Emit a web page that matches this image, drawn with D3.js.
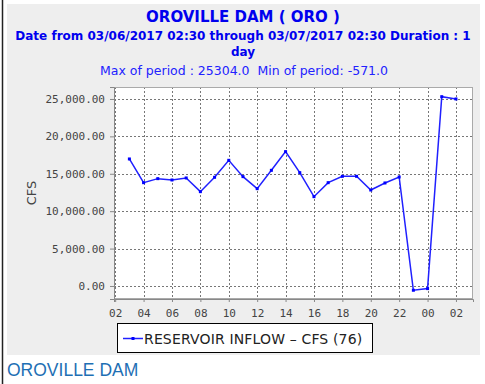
<!DOCTYPE html>
<html>
<head>
<meta charset="utf-8">
<script src="https://cdn.jsdelivr.net/npm/d3@7"></script>
<style>
  body { margin: 0; background: #fff; }
  svg { display: block; }
  text { white-space: pre; }
</style>
</head>
<body>
<div id="chart"></div>
<script>
// Reservoir inflow, hourly readings
var times = ["2017-03-06T03:00", "2017-03-06T04:00", "2017-03-06T05:00", "2017-03-06T06:00",
             "2017-03-06T07:00", "2017-03-06T08:00", "2017-03-06T09:00", "2017-03-06T10:00",
             "2017-03-06T11:00", "2017-03-06T12:00", "2017-03-06T13:00", "2017-03-06T14:00",
             "2017-03-06T15:00", "2017-03-06T16:00", "2017-03-06T17:00", "2017-03-06T18:00",
             "2017-03-06T19:00", "2017-03-06T20:00", "2017-03-06T21:00", "2017-03-06T22:00",
             "2017-03-06T23:00", "2017-03-07T00:00", "2017-03-07T01:00", "2017-03-07T02:00"];
var inflow = [16980, 13810, 14350, 14170, 14440, 12610, 14530, 16800,
              14620, 13010, 15460, 17960, 15150, 11940, 13810, 14660,
              14660, 12830, 13770, 14570, -571, -350, 25304, 25000];
var yTicks = [0, 5000, 10000, 15000, 20000, 25000];

var width = 485, height = 384;
var parse = d3.timeParse("%Y-%m-%dT%H:%M");
var data = times.map(function(t, i) { return { t: parse(t), v: inflow[i] }; });

var svg = d3.select("#chart").append("svg")
    .attr("width", width)
    .attr("height", height);

// panel + left rule
svg.append("rect").attr("x", 7).attr("y", 4).attr("width", 473).attr("height", 351)
   .attr("fill", "#eeeeee");
svg.append("line").attr("x1", 2.5).attr("x2", 2.5).attr("y1", 0).attr("y2", height)
   .attr("stroke", "#222").attr("stroke-width", 1.5);

// titles
svg.append("text").attr("x", 243).attr("y", 22).attr("text-anchor", "middle")
   .style("font", "bold 15px 'DejaVu Sans'").attr("fill", "#0000ee")
   .text("OROVILLE DAM ( ORO )");
svg.append("text").attr("x", 243).attr("y", 40).attr("text-anchor", "middle")
   .style("font", "bold 12px 'DejaVu Sans'").attr("fill", "#0000ee")
   .text("Date from 03/06/2017 02:30 through 03/07/2017 02:30 Duration : 1");
svg.append("text").attr("x", 243).attr("y", 56).attr("text-anchor", "middle")
   .style("font", "bold 12px 'DejaVu Sans'").attr("fill", "#0000ee")
   .text("day");
svg.append("text").attr("x", 244).attr("y", 75).attr("text-anchor", "middle")
   .style("font", "12.5px 'DejaVu Sans'").attr("fill", "#2222ff")
   .text("Max of period : 25304.0  Min of period: -571.0");

// plot area
var plot = { left: 114, top: 87, right: 473, bottom: 299 };

var x = d3.scaleTime()
    .domain([parse("2017-03-06T01:55"), parse("2017-03-07T03:12")])
    .range([plot.left, plot.right]);
var y = d3.scaleLinear()
    .domain([-1740, 26600])
    .range([plot.bottom, plot.top]);

svg.append("rect").attr("x", plot.left).attr("y", plot.top)
   .attr("width", plot.right - plot.left).attr("height", plot.bottom - plot.top)
   .attr("fill", "#fff");

var xTicks = x.ticks(d3.timeHour.every(2));

// grid
svg.append("g").selectAll("line").data(xTicks).enter().append("line")
   .attr("x1", function(d) { return Math.round(x(d)) + 0.5; })
   .attr("x2", function(d) { return Math.round(x(d)) + 0.5; })
   .attr("y1", plot.top).attr("y2", plot.bottom)
   .attr("stroke", "#777").attr("stroke-dasharray", "2,2");
svg.append("g").selectAll("line").data(yTicks).enter().append("line")
   .attr("y1", function(d) { return Math.round(y(d)) + 0.5; })
   .attr("y2", function(d) { return Math.round(y(d)) + 0.5; })
   .attr("x1", plot.left).attr("x2", plot.right)
   .attr("stroke", "#777").attr("stroke-dasharray", "2,2");

svg.append("rect").attr("x", plot.left + 0.5).attr("y", plot.top + 0.5)
   .attr("width", plot.right - plot.left - 1).attr("height", plot.bottom - plot.top - 1)
   .attr("fill", "none").attr("stroke", "#aaa");

// axes
var xAxis = svg.append("g").attr("transform", "translate(0," + plot.bottom + ")")
   .call(d3.axisBottom(x).tickValues(xTicks).tickFormat(d3.timeFormat("%H"))
         .tickSize(3).tickPadding(7));
var yAxis = svg.append("g").attr("transform", "translate(" + plot.left + ",0)")
   .call(d3.axisLeft(y).tickValues(yTicks).tickFormat(d3.format(",.2f"))
         .tickSize(4).tickPadding(5));
[xAxis, yAxis].forEach(function(a) {
  a.select(".domain").attr("stroke", "#888");
  a.selectAll(".tick line").attr("stroke", "#888");
  a.selectAll("text").style("font", "11px 'DejaVu Sans Mono'").attr("fill", "#444");
});

svg.append("text")
   .attr("transform", "translate(36,193) rotate(-90)")
   .attr("text-anchor", "middle")
   .style("font", "13px 'DejaVu Sans'").attr("fill", "#444")
   .text("CFS");

// series
var line = d3.line()
    .x(function(d) { return x(d.t); })
    .y(function(d) { return y(d.v); });
svg.append("path").datum(data).attr("d", line)
   .attr("fill", "none").attr("stroke", "#2020ff").attr("stroke-width", 1.5);
svg.append("g").selectAll("rect").data(data).enter().append("rect")
   .attr("x", function(d) { return x(d.t) - 1.5; })
   .attr("y", function(d) { return y(d.v) - 1.5; })
   .attr("width", 3).attr("height", 3)
   .attr("fill", "#0000ff");

// legend
var lg = svg.append("g").attr("transform", "translate(117,323)");
lg.append("rect").attr("x", 0.5).attr("y", 0.5).attr("width", 255).attr("height", 29)
  .attr("fill", "#fff").attr("stroke", "#000");
lg.append("line").attr("x1", 6).attr("x2", 26).attr("y1", 15.5).attr("y2", 15.5)
  .attr("stroke", "#2020ff").attr("stroke-width", 1.5);
lg.append("rect").attr("x", 14.5).attr("y", 14).attr("width", 3).attr("height", 3)
  .attr("fill", "#0000ff");
lg.append("text").attr("x", 27).attr("y", 20.5)
  .style("font", "14px 'DejaVu Sans'").style("letter-spacing", "0.15px").attr("fill", "#222")
  .text("RESERVOIR INFLOW – CFS (76)");

// footer link text
svg.append("text").attr("x", 7).attr("y", 376)
   .style("font", "17.5px 'Liberation Sans'").attr("fill", "#1e6fb4")
   .text("OROVILLE DAM");
</script>
</body>
</html>
